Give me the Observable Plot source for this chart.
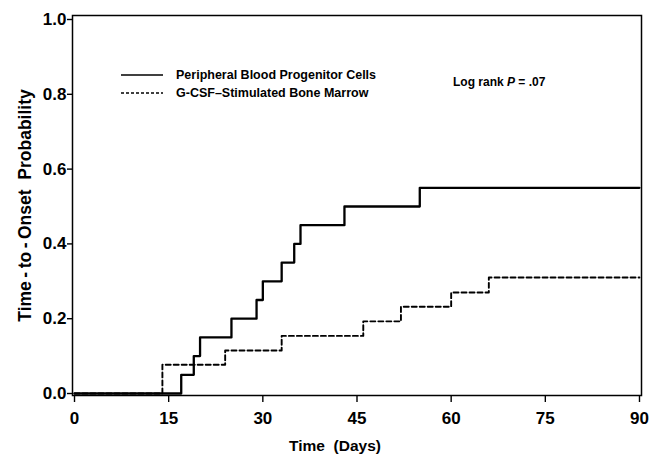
<!DOCTYPE html>
<html>
<head>
<meta charset="utf-8">
<script src="https://cdn.jsdelivr.net/npm/d3@7"></script>
<script src="https://cdn.jsdelivr.net/npm/@observablehq/plot@0.6"></script>
<style>
  html, body { margin: 0; padding: 0; background: #fff; }
  #wrap { position: relative; width: 650px; height: 460px; font-family: "Liberation Sans", Arial, sans-serif; font-weight: bold; }
  #wrap svg text { white-space: pre; }
  .legend { position: absolute; left: 121px; top: 66px; font-size: 12.5px; line-height: 18px; color: #000; }
  .legend .row { display: flex; align-items: center; height: 18px; }
  .legend svg { width: 42px; height: 6px; margin-right: 13px; overflow: visible; }
  .note { position: absolute; left: 453px; top: 75px; font-size: 12px; color: #000; }
</style>
</head>
<body>
<div id="wrap"></div>
<script>
// Series: step curves (time in days, cumulative time-to-onset probability)
const pbpcDays   = [0, 17, 19, 20, 25, 29, 30, 33, 35, 36, 43, 55, 90];
const pbpcProb   = [0, 0.05, 0.10, 0.15, 0.20, 0.25, 0.30, 0.35, 0.40, 0.45, 0.50, 0.55, 0.55];
const bmDays     = [0, 14, 24, 33, 46, 52, 60, 66, 90];
const bmProb     = [0, 0.077, 0.115, 0.154, 0.193, 0.232, 0.270, 0.310, 0.310];

const seriesNames = ["Peripheral Blood Progenitor Cells", "G-CSF–Stimulated Bone Marrow"];
const xTicks = [0, 15, 30, 45, 60, 75, 90];
const yTicks = [0, 0.2, 0.4, 0.6, 0.8, 1.0];
const xTitle = "Time  (Days)";
const yTitle = "Time\u2009-\u2009to\u2009-\u2009Onset  Probability";
const noteText = "Log rank ";
const notePart2 = "P";
const notePart3 = " = .07";

const pbpc = pbpcDays.map((d, i) => ({day: d, p: pbpcProb[i]}));
const bm = bmDays.map((d, i) => ({day: d, p: bmProb[i]}));

const chart = Plot.plot({
  width: 650,
  height: 460,
  marginLeft: 72,
  marginRight: 9,
  marginTop: 15,
  marginBottom: 65,
  style: {fontFamily: '"Liberation Sans", Arial, sans-serif', fontWeight: "bold", color: "#000", background: "#fff", overflow: "visible"},
  x: {domain: [-0.32, 90.32]},
  y: {domain: [-0.0053, 1.0107]},
  marks: [
    Plot.frame({stroke: "#000", strokeWidth: 1.5}),
    Plot.axisX({ticks: xTicks, tickSize: 7, tickPadding: 9, fontSize: 17, label: null, tickFormat: d => String(d), strokeWidth: 1.4}),
    Plot.axisY({ticks: yTicks, tickSize: 5, tickPadding: 1, fontSize: 17, label: null, tickFormat: d3.format(".1f"), strokeWidth: 1.4}),
    Plot.line(pbpc, {x: "day", y: "p", curve: "step-after", stroke: "#000", strokeWidth: 2.3}),
    Plot.line(bm, {x: "day", y: "p", curve: "step-after", stroke: "#000", strokeWidth: 1.9, strokeDasharray: "5,3"}),
    Plot.text([xTitle], {text: d => d, frameAnchor: "bottom", dx: -22, dy: 55, fontSize: 15.5, fontWeight: "bold", fill: "#000"}),
    Plot.text([yTitle], {text: d => d, frameAnchor: "left", textAnchor: "middle", dx: -47, rotate: -90, fontSize: 17.5, fontWeight: "bold", fill: "#000"})
  ]
});

const wrap = document.getElementById("wrap");
wrap.appendChild(chart);

// Legend overlay
const legend = document.createElement("div");
legend.className = "legend";
const dashes = [null, "3,2"];
const widths = [1.3, 1.3];
seriesNames.forEach((name, i) => {
  const row = document.createElement("div");
  row.className = "row";
  const s = d3.create("svg");
  s.append("line").attr("x1", 0).attr("x2", 42).attr("y1", 3).attr("y2", 3)
    .attr("stroke", "#000").attr("stroke-width", widths[i])
    .attr("stroke-dasharray", dashes[i]);
  row.appendChild(s.node());
  const t = document.createElement("span");
  t.textContent = name;
  row.appendChild(t);
  legend.appendChild(row);
});
wrap.appendChild(legend);

const note = document.createElement("div");
note.className = "note";
note.append(noteText);
const it = document.createElement("i");
it.textContent = notePart2;
note.append(it);
note.append(notePart3);
wrap.appendChild(note);
</script>
</body>
</html>
